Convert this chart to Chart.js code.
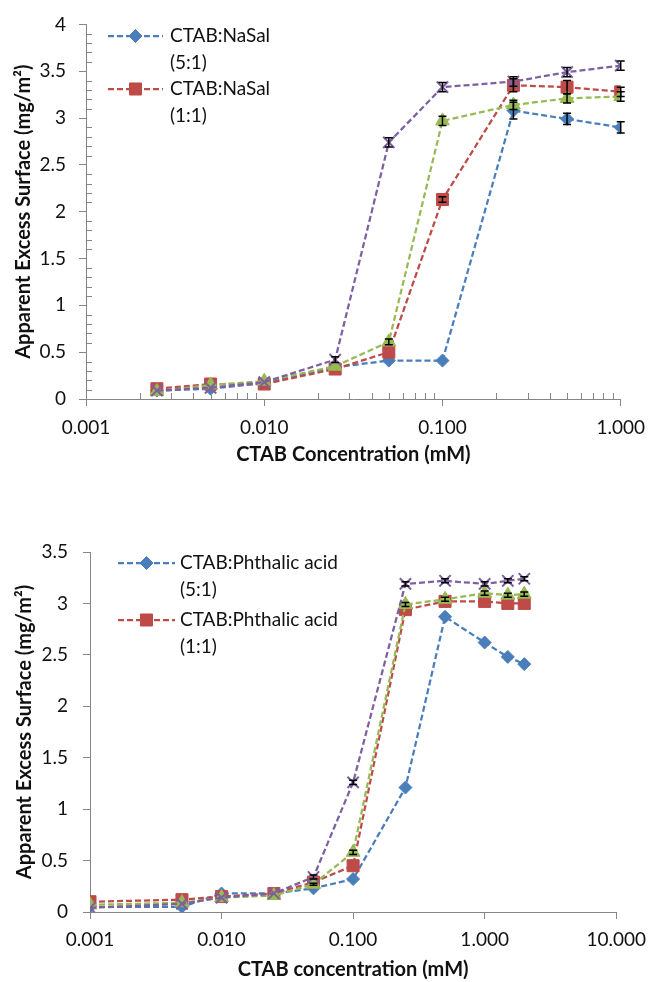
<!DOCTYPE html>
<html>
<head>
<meta charset="utf-8">
<script src="https://cdn.jsdelivr.net/npm/chart.js@4.4.1/dist/chart.umd.min.js"></script>
<style>
  body { margin: 0; background: #fff; }
  .box { position: absolute; left: 0; }
</style>
</head>
<body>
<div class="box" style="top:0"><canvas id="chartTop" width="655" height="480"></canvas></div>
<div class="box" style="top:512px"><canvas id="chartBottom" width="655" height="470"></canvas></div>
<script>
// --- data: top chart (NaSal) ---
var topConc = [0.0025, 0.005, 0.01, 0.025, 0.05, 0.1, 0.25, 0.5, 1.0];
var nasal51 = [0.09, 0.11, 0.17, 0.34, 0.41, 0.41, 3.08, 2.99, 2.90];
var nasal11 = [0.11, 0.16, 0.16, 0.32, 0.50, 2.13, 3.35, 3.33, 3.28];
var nasalG  = [0.08, 0.15, 0.19, 0.35, 0.61, 2.97, 3.14, 3.21, 3.23];
var nasalP  = [0.09, 0.12, 0.18, 0.42, 2.74, 3.33, 3.39, 3.49, 3.56];
var nasal51Err = [0, 0, 0, 0, 0, 0, 0.09, 0.06, 0.06];
var nasal11Err = [0, 0, 0, 0, 0, 0.03, 0.07, 0.07, 0.05];
var nasalGErr  = [0, 0, 0, 0, 0.03, 0.05, 0.05, 0.05, 0.05];
var nasalPErr  = [0, 0, 0, 0.03, 0.05, 0.05, 0.05, 0.05, 0.05];
var topXTicks = [0.001, 0.01, 0.1, 1];

// --- data: bottom chart (Phthalic acid) ---
var botConc = [0.001, 0.005, 0.01, 0.025, 0.05, 0.1, 0.25, 0.5, 1.0, 1.5, 2.0];
var phth51 = [0.05, 0.05, 0.18, 0.18, 0.23, 0.32, 1.21, 2.87, 2.62, 2.48, 2.41];
var phth11 = [0.10, 0.12, 0.15, 0.18, 0.29, 0.45, 2.94, 3.02, 3.02, 3.00, 3.00];
var phthG  = [0.07, 0.09, 0.14, 0.16, 0.27, 0.58, 2.99, 3.04, 3.10, 3.08, 3.09];
var phthP  = [0.04, 0.08, 0.14, 0.18, 0.34, 1.26, 3.19, 3.22, 3.19, 3.22, 3.24];
var phthGErr = [0, 0, 0, 0, 0.01, 0.02, 0.02, 0.02, 0.02, 0.02, 0.02];
var phthPErr = [0, 0, 0, 0, 0.02, 0.02, 0.02, 0.02, 0.02, 0.02, 0.02];
var botXTicks = [0.001, 0.01, 0.1, 1, 10];

var BLUE = '#4A7EBB', RED = '#BE4B48', GREEN = '#98B954', PURPLE = '#7D60A0';
var AXIS = '#868686';
var FONT = 'Lato, "Open Sans", sans-serif';

function pts(xs, ys) {
    return xs.map(function (x, i) { return { x: x, y: ys[i] }; });
}

function series(label, xs, ys, err, color, style, radius, order) {
    return {
        label: label,
        data: pts(xs, ys),
        err: err,
        borderColor: color,
        backgroundColor: color,
        pointBackgroundColor: color,
        pointBorderColor: color,
        pointStyle: style,
        pointRadius: radius,
        pointBorderWidth: style === 'crossRot' ? 2 : 1,
        borderWidth: 2.25,
        borderDash: [6, 3],
        tension: 0,
        fill: false,
        order: order
    };
}

// error bars (black, with caps)
var errorBars = {
    id: 'errorBars',
    afterDatasetsDraw: function (chart) {
        var ctx = chart.ctx, xs = chart.scales.x, ys = chart.scales.y;
        ctx.save();
        ctx.strokeStyle = '#000';
        ctx.lineWidth = 1.5;
        chart.data.datasets.forEach(function (ds) {
            if (!ds.err) return;
            ds.data.forEach(function (p, i) {
                var e = ds.err[i];
                if (!e) return;
                var px = xs.getPixelForValue(p.x);
                var y1 = ys.getPixelForValue(p.y - e), y2 = ys.getPixelForValue(p.y + e);
                ctx.beginPath();
                ctx.moveTo(px, y1); ctx.lineTo(px, y2);
                ctx.moveTo(px - 4, y1); ctx.lineTo(px + 4, y1);
                ctx.moveTo(px - 4, y2); ctx.lineTo(px + 4, y2);
                ctx.stroke();
            });
        });
        ctx.restore();
    }
};

// minor tick marks drawn inside the plot (top chart only)
var minorTicks = {
    id: 'minorTicks',
    afterDraw: function (chart, args, opts) {
        if (!opts.show) return;
        var ctx = chart.ctx, xs = chart.scales.x, ys = chart.scales.y, a = chart.chartArea;
        ctx.save();
        ctx.strokeStyle = AXIS;
        ctx.lineWidth = 1;
        ctx.beginPath();
        for (var d = 0.001; d < 1; d *= 10) {
            for (var k = 2; k <= 9; k++) {
                var px = Math.round(xs.getPixelForValue(d * k)) + 0.5;
                ctx.moveTo(px, a.bottom); ctx.lineTo(px, a.bottom - 6);
            }
        }
        for (var v = 0.1; v < 4; v += 0.1) {
            if (Math.abs(v * 2 - Math.round(v * 2)) < 1e-6) continue;
            var py = Math.round(ys.getPixelForValue(v)) + 0.5;
            ctx.moveTo(a.left, py); ctx.lineTo(a.left + 6, py);
        }
        ctx.stroke();
        ctx.restore();
    }
};

// legend with wrapped text, drawn inside the plot
var wrapLegend = {
    id: 'wrapLegend',
    afterDraw: function (chart, args, opts) {
        var ctx = chart.ctx;
        ctx.save();
        opts.items.forEach(function (it) {
            var ds = chart.data.datasets[it.index];
            ctx.strokeStyle = ds.borderColor;
            ctx.lineWidth = 2.25;
            ctx.setLineDash([6, 3]);
            ctx.beginPath();
            ctx.moveTo(opts.x1, it.y); ctx.lineTo(opts.x2, it.y);
            ctx.stroke();
            ctx.setLineDash([]);
            ctx.fillStyle = ds.pointBackgroundColor;
            ctx.strokeStyle = ds.pointBorderColor;
            ctx.lineWidth = 1;
            Chart.helpers.drawPoint(ctx, { pointStyle: ds.pointStyle, radius: ds.pointRadius, borderWidth: 1, rotation: 0 },
                (opts.x1 + opts.x2) / 2, it.y);
            ctx.fillStyle = '#111';
            ctx.font = '19px ' + FONT;
            ctx.textBaseline = 'middle';
            ctx.textAlign = 'left';
            it.text.forEach(function (t, j) {
                ctx.fillText(t, opts.textX, it.y + j * 27);
            });
        });
        ctx.restore();
    }
};

function makeOptions(cfg) {
    return {
        responsive: false,
        animation: false,
        layout: { padding: { top: cfg.padTop, right: cfg.padRight, left: 0, bottom: 0 } },
        scales: {
            x: {
                type: 'logarithmic',
                min: cfg.xMin,
                max: cfg.xMax,
                afterBuildTicks: function (s) {
                    s.ticks = cfg.xTicks.map(function (v) { return { value: v }; });
                },
                afterFit: function (s) { s.height = cfg.xHeight; },
                border: { color: AXIS, width: 1 },
                grid: { display: true, drawOnChartArea: false, tickLength: 7, color: AXIS },
                ticks: {
                    autoSkip: false,
                    maxRotation: 0,
                    padding: cfg.xTickPad,
                    color: '#111',
                    font: { family: FONT, size: 19 },
                    callback: function (v) { return Number(v).toFixed(3); }
                },
                title: {
                    display: true,
                    text: cfg.xTitle,
                    color: '#111',
                    font: { family: FONT, size: 20, weight: 'bold' },
                    padding: { top: 0, bottom: cfg.xTitlePad }
                }
            },
            y: {
                min: 0,
                max: cfg.yMax,
                afterFit: function (s) { s.width = cfg.yWidth; },
                border: { color: AXIS, width: 1 },
                grid: { display: true, drawOnChartArea: false, tickLength: 7, color: AXIS },
                ticks: {
                    stepSize: 0.5,
                    padding: cfg.yTickPad,
                    color: '#111',
                    font: { family: FONT, size: 19 },
                    callback: function (v) { return String(v); }
                },
                title: {
                    display: true,
                    text: 'Apparent Excess Surface (mg/m\u00B2)',
                    color: '#111',
                    font: { family: FONT, size: 20, weight: 'bold' },
                    padding: { top: cfg.yTitlePad, bottom: 0 }
                }
            }
        },
        plugins: {
            legend: { display: false },
            tooltip: { enabled: false },
            minorTicks: { show: cfg.minor },
            wrapLegend: cfg.legend
        }
    };
}

new Chart(document.getElementById('chartTop').getContext('2d'), {
    type: 'line',
    data: {
        datasets: [
            series('CTAB:NaSal (5:1)', topConc, nasal51, nasal51Err, BLUE, 'rectRot', 6.5, 4),
            series('CTAB:NaSal (1:1)', topConc, nasal11, nasal11Err, RED, 'rect', 8.5, 3),
            series('series 3', topConc, nasalG, nasalGErr, GREEN, 'triangle', 8, 2),
            series('series 4', topConc, nasalP, nasalPErr, PURPLE, 'crossRot', 8, 1)
        ]
    },
    options: makeOptions({
        padTop: 21, padRight: 34, xMin: 0.001, xMax: 1, xTicks: topXTicks,
        xHeight: 81, xTickPad: 10, xTitle: 'CTAB Concentration (mM)', xTitlePad: 13,
        yMax: 4, yWidth: 86, yTickPad: 13, yTitlePad: 12, minor: true,
        legend: {
            x1: 108, x2: 163, textX: 170,
            items: [
                { index: 0, y: 36, text: ['CTAB:NaSal', '(5:1)'] },
                { index: 1, y: 89, text: ['CTAB:NaSal', '(1:1)'] }
            ]
        }
    }),
    plugins: [errorBars, minorTicks, wrapLegend]
});

new Chart(document.getElementById('chartBottom').getContext('2d'), {
    type: 'line',
    data: {
        datasets: [
            series('CTAB:Phthalic acid (5:1)', botConc, phth51, null, BLUE, 'rectRot', 6.5, 4),
            series('CTAB:Phthalic acid (1:1)', botConc, phth11, null, RED, 'rect', 8.5, 3),
            series('series 3', botConc, phthG, phthGErr, GREEN, 'triangle', 8, 2),
            series('series 4', botConc, phthP, phthPErr, PURPLE, 'crossRot', 8, 1)
        ]
    },
    options: makeOptions({
        padTop: 40, padRight: 33, xMin: 0.001, xMax: 10, xTicks: botXTicks,
        xHeight: 70, xTickPad: 9, xTitle: 'CTAB concentration (mM)', xTitlePad: 0,
        yMax: 3.5, yWidth: 90, yTickPad: 15, yTitlePad: 13, minor: false,
        legend: {
            x1: 118, x2: 175, textX: 180,
            items: [
                { index: 0, y: 563, text: ['CTAB:Phthalic acid', '(5:1)'] },
                { index: 1, y: 620, text: ['CTAB:Phthalic acid', '(1:1)'] }
            ].map(function (it) { it.y -= 512; return it; })
        }
    }),
    plugins: [errorBars, minorTicks, wrapLegend]
});
</script>
</body>
</html>
